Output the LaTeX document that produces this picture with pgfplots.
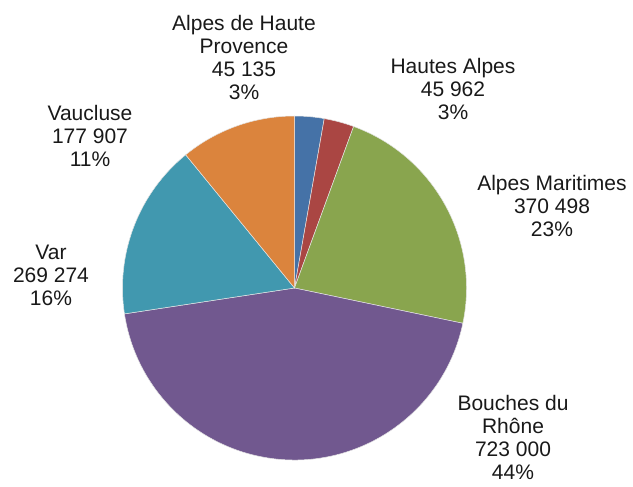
\documentclass[border=0pt]{standalone}
\usepackage{pgfplots}
\pgfplotsset{compat=1.18}
\usepackage{fontspec}
\setmainfont{Liberation Sans}
\definecolor{c1}{HTML}{4572A7}
\definecolor{c2}{HTML}{AA4643}
\definecolor{c3}{HTML}{89A54E}
\definecolor{c4}{HTML}{71588F}
\definecolor{c5}{HTML}{4198AF}
\definecolor{c6}{HTML}{DB843D}
% values in thousands
\pgfmathsetmacro\va{45.135}
\pgfmathsetmacro\vb{45.962}
\pgfmathsetmacro\vc{370.498}
\pgfmathsetmacro\vd{723.000}
\pgfmathsetmacro\ve{269.274}
\pgfmathsetmacro\vf{177.907}
\pgfmathsetmacro\tot{\va+\vb+\vc+\vd+\ve+\vf}
\pgfmathsetmacro\aA{90}
\pgfmathsetmacro\aB{\aA-360*(\va/\tot)}
\pgfmathsetmacro\aC{\aB-360*(\vb/\tot)}
\pgfmathsetmacro\aD{\aC-360*(\vc/\tot)}
\pgfmathsetmacro\aE{\aD-360*(\vd/\tot)}
\pgfmathsetmacro\aF{\aE-360*(\ve/\tot)}
\pgfmathsetmacro\aG{-270}
\newcommand\slice[3]{\fill[#3, draw=white!80!gray, line width=0.5bp] (axis cs:294.5,288) -- ++(#1:172bp) arc[start angle=#1, end angle=#2, radius=172bp] -- cycle;}
\begin{document}
\begin{tikzpicture}
\begin{axis}[width=633bp, height=487bp, scale only axis, hide axis,
  xmin=0, xmax=633, ymin=0, ymax=487, y dir=reverse, clip=false]
\path (axis cs:0,0) rectangle (axis cs:633,487);
\slice{\aA}{\aB}{c1}
\slice{\aB}{\aC}{c2}
\slice{\aC}{\aD}{c3}
\slice{\aD}{\aE}{c4}
\slice{\aE}{\aF}{c5}
\slice{\aF}{\aG}{c6}
\begin{scope}[every node/.style={anchor=north, align=center, inner sep=0pt, text=black!90, font={\fontsize{21bp}{23bp}\selectfont}}]
\node at (axis cs:244,15) {Alpes de Haute\\Provence\\45 135\\3\%};
\node at (axis cs:453,58) {Hautes Alpes\\45 962\\3\%};
\node at (axis cs:552,175) {Alpes Maritimes\\370 498\\23\%};
\node at (axis cs:513,395) {Bouches du\\Rhône\\723 000\\44\%};
\node at (axis cs:51,245) {Var\\269 274\\16\%};
\node at (axis cs:90,105) {Vaucluse\\177 907\\11\%};
\end{scope}
\end{axis}
\end{tikzpicture}
\end{document}
